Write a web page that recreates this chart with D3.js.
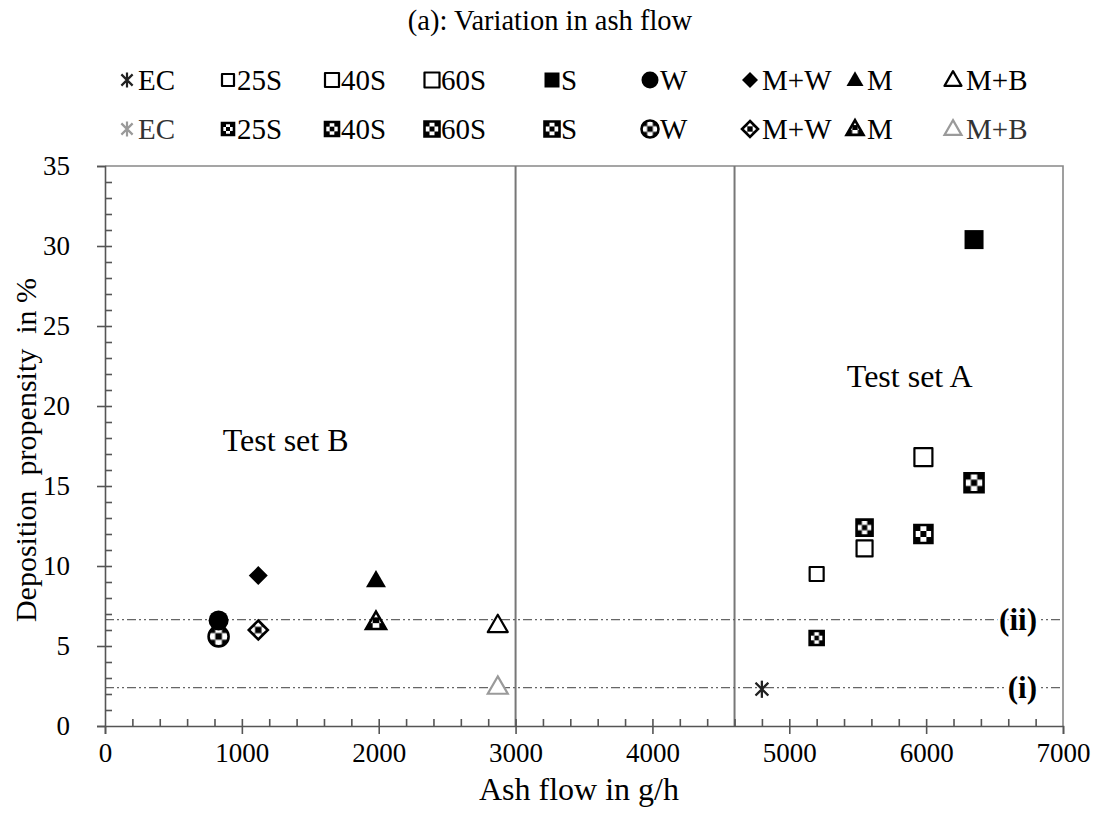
<!DOCTYPE html>
<html>
<head>
<meta charset="utf-8">
<script src="https://cdn.jsdelivr.net/npm/d3@7"></script>
<style>
  body { margin: 0; background: #fff; }
  svg { font-family: "Liberation Serif", "Times New Roman", serif; }
</style>
</head>
<body>
<svg id="chart" width="1100" height="819"></svg>
<script>
// series names, ash flow (g/h) and deposition propensity (%)
var series = ["EC", "25S", "40S", "60S", "S", "W", "M+W", "M", "M+B"];
var ashFlow = [4800, 5200, 5550, 5980, 6350, 830, 1120, 1980, 2870];
var propensityTop = [2.3, 9.5, 11.1, 16.8, 30.4, 6.6, 9.4, 9.1, 6.3];     // first legend row
var propensityBottom = [2.3, 5.5, 12.4, 12.0, 15.2, 5.6, 6.0, 6.5, 2.45]; // second legend row

var shapeTop = ["asterisk", "square", "square", "square", "square", "circle", "diamond", "triangle", "triangle"];
var styleTop = ["black", "open", "open", "open", "filled", "filled", "filled", "filled", "open"];
var styleBottom = ["grey", "checker", "checker", "checker", "checker", "checker", "checker", "checker", "grey"];
var markerSize = [17, 14, 16, 18, 19, 20, 19, 20, 20];
var legendSize = [15, 12, 14, 15, 15, 17, 16, 17, 17];

var xTicks = [0, 1000, 2000, 3000, 4000, 5000, 6000, 7000];
var yTicks = [0, 5, 10, 15, 20, 25, 30, 35];
var dividers = [3000, 4600];
var refLines = [{ y: 2.4, label: "(i)" }, { y: 6.65, label: "(ii)" }];
var setLabels = [{ x: 1320, y: 17.2, text: "Test set B" }, { x: 5880, y: 21.2, text: "Test set A" }];

var svg = d3.select("#chart"),
    margin = { top: 166, left: 105, bottom: 93, right: 37 },
    W = +svg.attr("width"), H = +svg.attr("height");

var x = d3.scaleLinear().domain([0, 7000]).range([margin.left, W - margin.right]);
var y = d3.scaleLinear().domain([0, 35]).range([H - margin.bottom, margin.top]);

// checker pattern for the second row markers
var pat = svg.append("defs").append("pattern")
    .attr("id", "checker")
    .attr("patternUnits", "objectBoundingBox")
    .attr("patternContentUnits", "objectBoundingBox")
    .attr("width", 1).attr("height", 1);
pat.append("rect").attr("width", 1).attr("height", 1).attr("fill", "#fff");
[[0, 0], [2, 0], [1, 1], [0, 2], [2, 2]].forEach(function (c) {
    pat.append("rect").attr("x", c[0] / 3).attr("y", c[1] / 3)
        .attr("width", 1 / 3).attr("height", 1 / 3).attr("fill", "#000");
});

function shapePath(shape, s) {
    var h = s / 2;
    if (shape == "square") return "M" + (-h) + "," + (-h) + "h" + s + "v" + s + "h" + (-s) + "Z";
    if (shape == "circle") return "M" + (-h) + ",0a" + h + "," + h + " 0 1,0 " + s + ",0a" + h + "," + h + " 0 1,0 " + (-s) + ",0Z";
    if (shape == "diamond") return "M0," + (-h) + "L" + h + ",0L0," + h + "L" + (-h) + ",0Z";
    if (shape == "triangle") {
        var th = s * 0.87;
        return "M0," + (-th * 0.6) + "L" + h + "," + (th * 0.4) + "L" + (-h) + "," + (th * 0.4) + "Z";
    }
    // asterisk: X with a vertical bar
    var d = h * 0.75;
    return "M" + (-d) + "," + (-d) + "L" + d + "," + d + "M" + d + "," + (-d) + "L" + (-d) + "," + d + "M0," + (-h) + "L0," + h;
}

function drawMarker(g, shape, style, s) {
    var p = g.append("path").attr("d", shapePath(shape, s));
    if (shape == "asterisk") {
        p.attr("fill", "none").attr("stroke", style == "grey" ? "#9a9a9a" : "#222").attr("stroke-width", 2.2);
    } else if (style == "filled") {
        p.attr("fill", "#000");
    } else if (style == "open") {
        p.attr("fill", "#fff").attr("stroke", "#000").attr("stroke-width", 2.2).attr("stroke-linejoin", "round");
    } else if (style == "grey") {
        p.attr("fill", "#fff").attr("stroke", "#9a9a9a").attr("stroke-width", 2.2);
    } else {
        p.attr("fill", "url(#checker)").attr("stroke", "#000").attr("stroke-width", 2.6);
    }
}

// title
svg.append("text")
    .attr("x", W / 2).attr("y", 30)
    .attr("text-anchor", "middle")
    .style("font-size", "28.5px")
    .text("(a): Variation in ash flow");

// legend
var legendX = [127, 228, 332, 432, 552, 650, 750, 855, 953];
var legendTextX = [138, 237, 341, 441, 561, 660, 762, 867, 966];
var legendRows = [{ y: 80, shapes: shapeTop, styles: styleTop }, { y: 129, shapes: shapeTop, styles: styleBottom }];
legendRows.forEach(function (row) {
    series.forEach(function (name, i) {
        var g = svg.append("g").attr("transform", "translate(" + legendX[i] + "," + row.y + ")");
        drawMarker(g, row.shapes[i], row.styles[i], legendSize[i]);
        svg.append("text")
            .attr("x", legendTextX[i]).attr("y", row.y + 10)
            .style("font-size", "29px")
            .attr("fill", row.styles[i] == "grey" ? "#333" : "#000")
            .text(name);
    });
});

// frame (top and right)
svg.append("path")
    .attr("d", "M" + x(0) + "," + y(35) + "H" + x(7000) + "V" + y(0))
    .attr("fill", "none").attr("stroke", "#888").attr("stroke-width", 1.6);

// vertical dividers
svg.selectAll(".divider").data(dividers).enter().append("line")
    .attr("class", "divider")
    .attr("x1", d => x(d)).attr("x2", d => x(d))
    .attr("y1", y(35)).attr("y2", y(0))
    .attr("stroke", "#777").attr("stroke-width", 2);

// reference dash-dot lines
svg.selectAll(".ref").data(refLines).enter().append("line")
    .attr("class", "ref")
    .attr("x1", x(0)).attr("x2", x(7000))
    .attr("y1", d => y(d.y)).attr("y2", d => y(d.y))
    .attr("stroke", "#666").attr("stroke-width", 1.4)
    .attr("stroke-dasharray", "9,3,2,3,2,3");

svg.selectAll(".refLabel").data(refLines).enter().append("text")
    .attr("class", "refLabel")
    .attr("x", x(6810)).attr("y", d => y(d.y) + 10)
    .attr("text-anchor", "end")
    .style("font-size", "31px").style("font-weight", "bold")
    .attr("stroke", "#fff").attr("stroke-width", 6).attr("paint-order", "stroke")
    .text(d => d.label);

// axes
svg.append("g").attr("transform", "translate(0," + y(0) + ")")
    .call(d3.axisBottom(x).tickValues(xTicks).tickSize(8).tickPadding(9).tickFormat(d3.format("d")));
svg.append("g").attr("transform", "translate(0," + y(0) + ")")
    .call(d3.axisTop(x).tickValues(d3.range(200, 7000, 200)).tickSize(7).tickFormat(""))
    .call(g => g.select(".domain").remove());

svg.append("g").attr("transform", "translate(" + x(0) + ",0)")
    .call(d3.axisLeft(y).tickValues(yTicks).tickSize(8).tickPadding(27));
svg.append("g").attr("transform", "translate(" + x(0) + ",0)")
    .call(d3.axisRight(y).tickValues(d3.range(1, 35, 1)).tickSize(7).tickFormat(""))
    .call(g => g.select(".domain").remove());

svg.selectAll(".tick line, .domain").attr("stroke", "#555").attr("stroke-width", 1.6);
svg.selectAll(".tick text")
    .style("font-family", "'Liberation Serif', 'Times New Roman', serif")
    .style("font-size", "27px").attr("fill", "#000");

// axis titles
svg.append("text")
    .attr("x", (x(0) + x(7000)) / 2 - 5).attr("y", 800)
    .attr("text-anchor", "middle")
    .style("font-size", "32px")
    .text("Ash flow in g/h");

svg.append("text")
    .attr("transform", "translate(36," + ((y(0) + y(35)) / 2 + 4) + ") rotate(-90)")
    .attr("text-anchor", "middle")
    .style("font-size", "30px").style("white-space", "pre")
    .text("Deposition  propensity  in %");

// test set labels
svg.selectAll(".setLabel").data(setLabels).enter().append("text")
    .attr("class", "setLabel")
    .attr("x", d => x(d.x)).attr("y", d => y(d.y))
    .attr("text-anchor", "middle")
    .style("font-size", "32px")
    .text(d => d.text);

// data markers (second row first so the solid ones sit on top)
series.forEach(function (name, i) {
    var g2 = svg.append("g").attr("transform", "translate(" + x(ashFlow[i]) + "," + y(propensityBottom[i]) + ")");
    drawMarker(g2, shapeTop[i], styleBottom[i], markerSize[i]);
});
series.forEach(function (name, i) {
    var g1 = svg.append("g").attr("transform", "translate(" + x(ashFlow[i]) + "," + y(propensityTop[i]) + ")");
    drawMarker(g1, shapeTop[i], styleTop[i], markerSize[i]);
});
</script>
</body>
</html>
